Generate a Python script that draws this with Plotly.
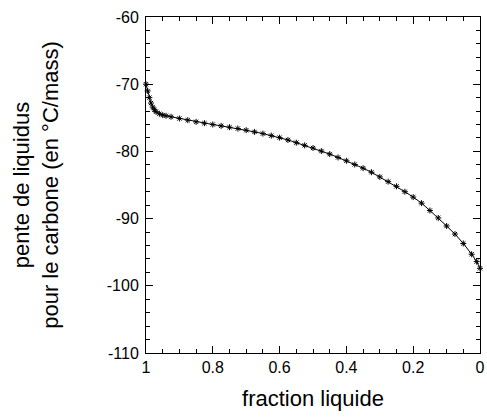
import plotly.graph_objects as go

# fraction liquide (x) and pente de liquidus (y)
fraction_liquide = [1.0, 0.995, 0.99, 0.985, 0.98, 0.975, 0.97, 0.96, 0.95, 0.94,
                    0.925, 0.9, 0.875, 0.85, 0.825, 0.8, 0.775, 0.75, 0.725, 0.7,
                    0.675, 0.65, 0.625, 0.6, 0.575, 0.55, 0.525, 0.5, 0.475, 0.45,
                    0.425, 0.4, 0.375, 0.35, 0.325, 0.3, 0.275, 0.25, 0.225, 0.2,
                    0.175, 0.15, 0.125, 0.1, 0.075, 0.05, 0.025, 0.01, 0.0]
pente_liquidus = [-70.0, -71.0, -72.0, -72.8, -73.4, -73.8, -74.1, -74.4, -74.6, -74.7,
                  -74.85, -75.1, -75.35, -75.6, -75.8, -76.0, -76.2, -76.4, -76.6, -76.85,
                  -77.1, -77.35, -77.65, -77.95, -78.3, -78.7, -79.1, -79.5, -79.95, -80.4,
                  -80.9, -81.4, -81.95, -82.5, -83.1, -83.8, -84.5, -85.2, -86.0, -86.8,
                  -87.7, -88.8, -89.9, -91.1, -92.3, -93.7, -95.3, -96.4, -97.4]

x_tickvals = [1, 0.8, 0.6, 0.4, 0.2, 0]
x_ticktext = ["1", "0.8", "0.6", "0.4", "0.2", "0"]
y_tickvals = [-110, -100, -90, -80, -70, -60]
y_ticktext = ["-110", "-100", "-90", "-80", "-70", "-60"]

FONT = "Liberation Sans, Arial, sans-serif"

fig = go.Figure()
fig.add_trace(go.Scatter(
    x=fraction_liquide, y=pente_liquidus, mode="lines+markers",
    line=dict(color="black", width=1),
    marker=dict(symbol="asterisk-open", size=5, color="black",
                line=dict(color="black", width=1)),
    showlegend=False,
    cliponaxis=False,
))

axis_common = dict(
    showline=True, linecolor="black", linewidth=1, mirror="allticks",
    ticks="inside", ticklen=7, tickwidth=1, tickcolor="black",
    showgrid=False, zeroline=False,
    tickfont=dict(family=FONT, size=16, color="black"),
)

fig.update_xaxes(
    range=[1, 0], tickvals=x_tickvals, ticktext=x_ticktext,
    minor=dict(dtick=0.05, tick0=0, ticks="inside", ticklen=4, tickcolor="black", showgrid=False),
    title=dict(text="fraction liquide", font=dict(family=FONT, size=22, color="black"), standoff=15),
    **axis_common,
)
fig.update_yaxes(
    range=[-110, -60], tickvals=y_tickvals, ticktext=y_ticktext,
    minor=dict(dtick=2, tick0=-110, ticks="inside", ticklen=4, tickcolor="black", showgrid=False),
    ticklabelstandoff=3,
    title=dict(text="pente de liquidus<br>pour le carbone (en °C/mass)",
               font=dict(family=FONT, size=22, color="black"), standoff=42),
    **axis_common,
)

fig.update_layout(
    width=487, height=418,
    margin=dict(l=146, r=7, t=17, b=65, autoexpand=False),
    paper_bgcolor="white", plot_bgcolor="white",
    font=dict(family=FONT, color="black"),
)

fig.write_html("out.html",
               config={"displayModeBar": False},
               post_script="document.body.style.margin='0';document.body.style.overflow='hidden';")
